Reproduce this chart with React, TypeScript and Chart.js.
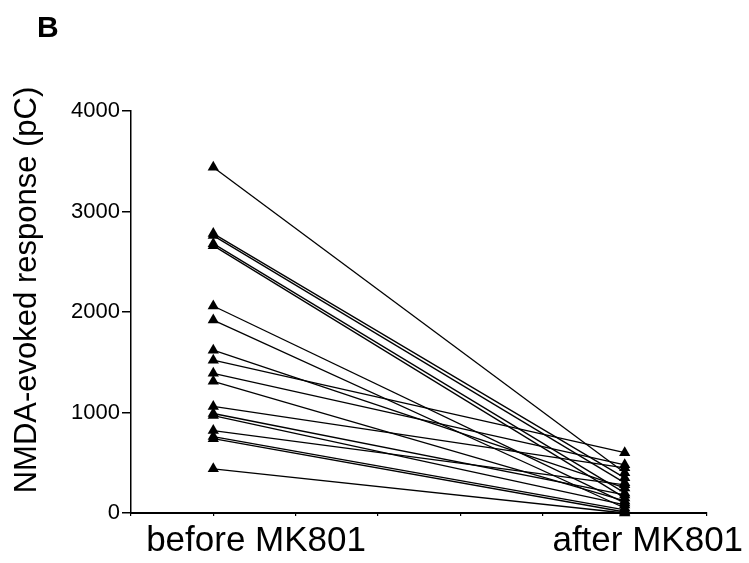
import React, { useEffect, useRef } from "react";
import { Chart, registerables } from "chart.js";

Chart.register(...registerables);

const conditions = ["before MK801", "after MK801"];
const conditionX = [1, 6];
const labelX = [1.52, 6.28];
const beforeValues = [3440, 2780, 2760, 2680, 2660, 2060, 1920, 1620, 1520, 1390, 1310, 1060, 990, 970, 820, 760, 740, 440];
const afterValues = [400, 350, 300, 200, 150, 100, 50, 250, 600, 480, 120, 450, 180, 80, 280, 30, 10, 0];
const yTicks = [0, 1000, 2000, 3000, 4000];
const yTitle = "NMDA-evoked response (pC)";
const panelLabel = "B";

const FONT = "'Liberation Sans', Arial, Helvetica, sans-serif";

export default function App() {
  const ref = useRef<HTMLCanvasElement | null>(null);

  useEffect(() => {
    if (!ref.current) return;
    const datasets = beforeValues.map((b, i) => ({
      data: [
        { x: conditionX[0], y: b },
        { x: conditionX[1], y: afterValues[i] },
      ],
      showLine: true,
      borderColor: "#000",
      backgroundColor: "#000",
      borderWidth: 1.3,
      pointStyle: "triangle" as const,
      pointRadius: 6.5,
      pointBorderWidth: 0,
      pointBackgroundColor: "#000",
      clip: false as const,
    }));

    const textPlugin = {
      id: "texts",
      afterDraw(chart: any) {
        const ctx = chart.ctx;
        const xs = chart.scales.x;
        ctx.save();
        ctx.fillStyle = "#000";
        ctx.textAlign = "center";
        ctx.textBaseline = "middle";
        ctx.font = `35px ${FONT}`;
        conditions.forEach((c, i) => {
          ctx.fillText(c, xs.getPixelForValue(labelX[i]), 541);
        });
        ctx.font = `bold 30px ${FONT}`;
        ctx.textAlign = "left";
        ctx.textBaseline = "alphabetic";
        ctx.fillText(panelLabel, 37, 37);
        ctx.translate(27, 290);
        ctx.rotate(-Math.PI / 2);
        ctx.textAlign = "center";
        ctx.textBaseline = "middle";
        ctx.font = `31px ${FONT}`;
        ctx.fillText(yTitle, 0, 0);
        ctx.restore();
      },
    };

    const chart = new Chart(ref.current, {
      type: "scatter",
      data: { datasets },
      options: {
        animation: false,
        responsive: false,
        maintainAspectRatio: false,
        layout: { padding: { left: 0, top: 111, right: 42, bottom: 0 } },
        plugins: { legend: { display: false }, tooltip: { enabled: false } },
        scales: {
          x: {
            type: "linear",
            min: 0,
            max: 7,
            afterFit: (s: any) => {
              s.height = 50;
            },
            afterBuildTicks: (s: any) => {
              s.ticks = [0, 1, 2, 3, 4, 5, 6, 7].map((v) => ({ value: v }));
            },
            ticks: { display: true, callback: () => "", padding: 0, font: { size: 1 } },
            grid: { drawOnChartArea: false, drawTicks: true, tickLength: 3, color: "#000", lineWidth: 1.2 },
            border: { color: "#000", width: 2 },
          },
          y: {
            min: 0,
            max: 4000,
            afterFit: (s: any) => {
              s.width = 131;
            },
            afterBuildTicks: (s: any) => {
              s.ticks = yTicks.map((v) => ({ value: v }));
            },
            ticks: {
              color: "#000",
              padding: 2,
              font: { family: FONT, size: 22 },
              callback: (v: any) => String(v),
            },
            grid: { drawOnChartArea: false, drawTicks: true, tickLength: 9, color: "#000", lineWidth: 1.5 },
            border: { color: "#000", width: 1.5 },
          },
        },
      },
      plugins: [textPlugin],
    });
    return () => chart.destroy();
  }, []);

  return (
    <div style={{ position: "absolute", left: 0, top: 0, width: 749, height: 563, background: "#fff" }}>
      <canvas ref={ref} width={749} height={563} style={{ width: 749, height: 563 }} />
    </div>
  );
}
